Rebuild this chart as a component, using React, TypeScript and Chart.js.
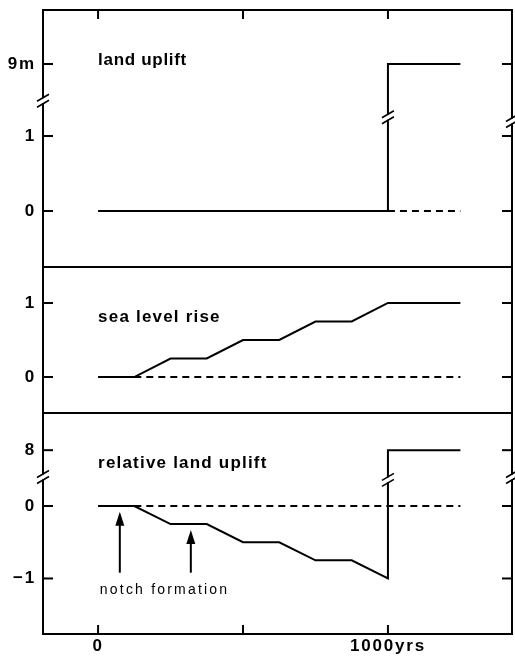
import React, { useEffect, useRef } from "react";
import { Chart, registerables } from "chart.js";

Chart.register(...registerables);

// ---- data (years, metres) ----
const landUpliftYears = [0, 1000, 1000, 1250];
const landUplift = [0, 0, 9, 9];
const landRefYears = [1000, 1250];
const landRef = [0, 0];

const seaYears = [0, 125, 250, 375, 500, 625, 750, 875, 1000, 1250];
const seaLevelRise = [0, 0, 0.25, 0.25, 0.5, 0.5, 0.75, 0.75, 1, 1];
const seaRefYears = [125, 1250];
const seaRef = [0, 0];

const relYears = [0, 125, 250, 375, 500, 625, 750, 875, 1000, 1000, 1250];
const relativeUplift = [0, 0, -0.25, -0.25, -0.5, -0.5, -0.75, -0.75, -1, 8, 8];
const relRefYears = [125, 1250];
const relRef = [0, 0];

const notchYears = [75, 320];

const xTicks = [0, 500, 1000];
const xTickLabels = ["0", "", "1000yrs"];
const upTicks = [0, 1, 9];
const upTickLabels = ["0", "1", "9m"];
const seaTicks = [0, 1];
const seaTickLabels = ["0", "1"];
const relTicks = [-1, 0, 8];
const relTickLabels = ["\u22121", "0", "8"];

// ---- broken-axis layout (display offsets) ----
const upBreak = { at: 2, shift: 9 - 1.96, left: 1.47, line: 1.25, right: 1.2 };
const relBreak = { at: 2, shift: 8 - 0.77, left: 0.4, line: 0.36, right: 0.4 };

const FONT = "'Liberation Sans', Arial, Helvetica, sans-serif";

function brk(v: number, b?: { at: number; shift: number }) {
  return b && v > b.at ? v - b.shift : v;
}

function pts(xs: number[], ys: number[], b?: { at: number; shift: number }) {
  return xs.map((x, i) => ({ x, y: brk(ys[i], b) }));
}

function zeroPad(s: any) {
  s.paddingTop = 0;
  s.paddingBottom = 0;
  s.paddingLeft = 0;
  s.paddingRight = 0;
}

function yScale(
  weight: number,
  min: number,
  max: number,
  ticks: number[],
  labels: string[],
  b?: { at: number; shift: number }
) {
  return {
    type: "linear" as const,
    position: "left" as const,
    stack: "panels",
    stackWeight: weight,
    min,
    max,
    afterBuildTicks: (s: any) => {
      s.ticks = ticks.map((v) => ({ value: brk(v, b) }));
    },
    afterFit: (s: any) => {
      s.width = 43;
      zeroPad(s);
    },
    grid: { display: false, drawTicks: false },
    border: { display: false },
    ticks: {
      autoSkip: false,
      color: "#000",
      padding: 7,
      font: { family: FONT, size: 17, weight: "bold" as const },
      callback: (_v: any, i: number) => labels[i],
    },
  };
}

function line(ctx: CanvasRenderingContext2D, x1: number, y1: number, x2: number, y2: number) {
  ctx.beginPath();
  ctx.moveTo(x1, y1);
  ctx.lineTo(x2, y2);
  ctx.stroke();
}

function breakMark(ctx: CanvasRenderingContext2D, px: number, py: number) {
  ctx.save();
  ctx.fillStyle = "#fff";
  ctx.fillRect(px - 2.5, py - 2.5, 5, 5);
  ctx.strokeStyle = "#000";
  ctx.lineWidth = 1.6;
  for (const off of [-3, 3]) {
    line(ctx, px - 6, py + off + 3.5, px + 6, py + off - 3.5);
  }
  ctx.restore();
}

function arrow(ctx: CanvasRenderingContext2D, px: number, yTip: number, yBottom: number) {
  ctx.save();
  ctx.strokeStyle = "#000";
  ctx.fillStyle = "#000";
  ctx.lineWidth = 2;
  line(ctx, px, yBottom, px, yTip + 10);
  ctx.beginPath();
  ctx.moveTo(px, yTip);
  ctx.lineTo(px - 4.5, yTip + 14);
  ctx.lineTo(px + 4.5, yTip + 14);
  ctx.closePath();
  ctx.fill();
  ctx.restore();
}

const decor = {
  id: "decor",
  beforeDraw(chart: any) {
    chart.ctx.letterSpacing = "1.8px";
  },
  beforeDatasetsDraw(chart: any) {
    chart.ctx.letterSpacing = "0px";
  },
  afterDraw(chart: any) {
    const ctx: CanvasRenderingContext2D = chart.ctx;
    const a = chart.chartArea;
    const x = chart.scales.x;
    const yUp = chart.scales.yUp;
    const ySea = chart.scales.ySea;
    const yRel = chart.scales.yRel;
    ctx.save();
    ctx.letterSpacing = "0px";
    ctx.strokeStyle = "#000";
    ctx.lineWidth = 2;
    ctx.strokeRect(a.left, a.top, a.right - a.left, a.bottom - a.top);
    line(ctx, a.left, yUp.bottom, a.right, yUp.bottom);
    line(ctx, a.left, ySea.bottom, a.right, ySea.bottom);

    for (const v of xTicks) {
      const px = x.getPixelForValue(v);
      line(ctx, px, a.top, px, a.top + 9);
      line(ctx, px, a.bottom, px, a.bottom - 9);
    }
    for (const s of [yUp, ySea, yRel]) {
      for (const t of s.ticks) {
        const py = s.getPixelForValue(t.value);
        line(ctx, a.left, py, a.left + 10, py);
        line(ctx, a.right, py, a.right - 10, py);
      }
    }

    const x1000 = x.getPixelForValue(1000);
    breakMark(ctx, a.left, yUp.getPixelForValue(upBreak.left));
    breakMark(ctx, x1000, yUp.getPixelForValue(upBreak.line));
    breakMark(ctx, a.right, yUp.getPixelForValue(upBreak.right));
    breakMark(ctx, a.left, yRel.getPixelForValue(relBreak.left));
    breakMark(ctx, x1000, yRel.getPixelForValue(relBreak.line));
    breakMark(ctx, a.right, yRel.getPixelForValue(relBreak.right));

    ctx.fillStyle = "#000";
    ctx.textBaseline = "alphabetic";
    ctx.textAlign = "left";
    ctx.font = `bold 17px ${FONT}`;
    ctx.letterSpacing = "0.7px";
    ctx.fillText("land uplift", x.getPixelForValue(0), yUp.getPixelForValue(1.95));
    ctx.letterSpacing = "1.2px";
    ctx.fillText("sea level rise", x.getPixelForValue(0), ySea.getPixelForValue(0.74));
    ctx.fillText("relative land uplift", x.getPixelForValue(0), yRel.getPixelForValue(0.52));
    ctx.font = `14px ${FONT}`;
    ctx.letterSpacing = "2.2px";
    ctx.fillText("notch formation", x.getPixelForValue(6), yRel.getPixelForValue(-1.21));
    ctx.letterSpacing = "0px";

    arrow(ctx, x.getPixelForValue(notchYears[0]), yRel.getPixelForValue(-0.08), yRel.getPixelForValue(-0.92));
    arrow(ctx, x.getPixelForValue(notchYears[1]), yRel.getPixelForValue(-0.33), yRel.getPixelForValue(-0.92));
    ctx.restore();
  },
};

export default function App() {
  const ref = useRef<HTMLCanvasElement | null>(null);

  useEffect(() => {
    if (!ref.current) return;
    const solid = { borderColor: "#000", borderWidth: 2, pointRadius: 0, tension: 0, fill: false };
    const dashed = { ...solid, borderWidth: 1.8, borderDash: [7, 5] };
    const chart = new Chart(ref.current, {
      type: "line",
      data: {
        datasets: [
          { ...solid, label: "land uplift", yAxisID: "yUp", data: pts(landUpliftYears, landUplift, upBreak) },
          { ...dashed, label: "land ref", yAxisID: "yUp", data: pts(landRefYears, landRef) },
          { ...solid, label: "sea level rise", yAxisID: "ySea", data: pts(seaYears, seaLevelRise) },
          { ...dashed, label: "sea ref", yAxisID: "ySea", data: pts(seaRefYears, seaRef) },
          { ...solid, label: "relative land uplift", yAxisID: "yRel", data: pts(relYears, relativeUplift, relBreak) },
          { ...dashed, label: "rel ref", yAxisID: "yRel", data: pts(relRefYears, relRef) },
        ],
      },
      options: {
        animation: false,
        responsive: false,
        layout: { padding: { top: 10, right: 3, left: 0, bottom: 0 } },
        plugins: { legend: { display: false }, tooltip: { enabled: false } },
        scales: {
          x: {
            type: "linear",
            min: -190,
            max: 1428,
            afterBuildTicks: (s: any) => {
              s.ticks = xTicks.map((v) => ({ value: v }));
            },
            afterFit: (s: any) => {
              s.height = 22;
              zeroPad(s);
            },
            grid: { display: false, drawTicks: false },
            border: { display: false },
            ticks: {
              autoSkip: false,
              maxRotation: 0,
              color: "#000",
              padding: 2,
              font: { family: FONT, size: 17, weight: "bold" },
              callback: (_v: any, i: number) => xTickLabels[i],
            },
          },
          yRel: yScale(221, -1.766, 1.283, relTicks, relTickLabels, relBreak),
          ySea: yScale(146, -0.486, 1.486, seaTicks, seaTickLabels),
          yUp: yScale(257, -0.747, 2.68, upTicks, upTickLabels, upBreak),
        } as any,
      },
      plugins: [decor],
    });
    return () => chart.destroy();
  }, []);

  return (
    <div style={{ position: "fixed", left: 0, top: 0, width: 515, height: 656, background: "#fff" }}>
      <canvas ref={ref} width={515} height={656} style={{ display: "block" }} />
    </div>
  );
}
